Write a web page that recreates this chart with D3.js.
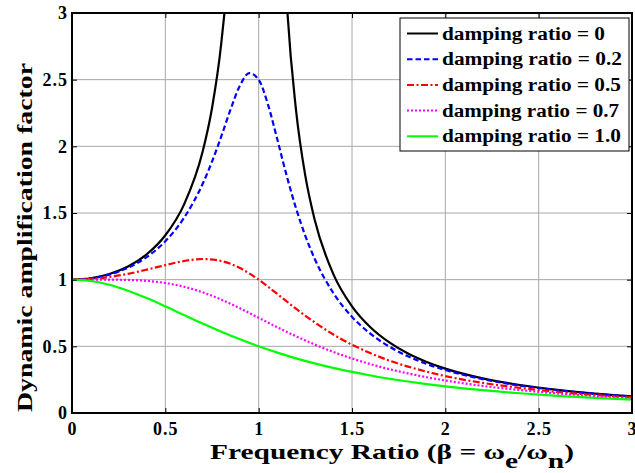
<!DOCTYPE html>
<html>
<head>
<meta charset="utf-8">
<script src="https://cdn.jsdelivr.net/npm/d3@7"></script>
<style>
  body { margin: 0; background: #fff; }
  text { font-family: "Liberation Serif", "Times New Roman", serif; font-weight: bold; }
</style>
</head>
<body>
<svg id="chart" width="635" height="473"></svg>
<script>
// frequency ratio samples (coarse for the well damped curves, finer round resonance)
var betaCoarse = [0, 0.1, 0.2, 0.3, 0.4, 0.5, 0.6, 0.7, 0.8, 0.9, 1.0, 1.1, 1.2, 1.3, 1.4,
                  1.5, 1.6, 1.7, 1.8, 1.9, 2.0, 2.2, 2.4, 2.6, 2.8, 3.0];
var betaFine = [0, 0.1, 0.2, 0.3, 0.4, 0.5, 0.6, 0.7, 0.75, 0.8, 0.85, 0.9, 0.95, 1.0, 1.05,
                1.1, 1.15, 1.2, 1.25, 1.3, 1.4, 1.5, 1.6, 1.7, 1.8, 1.9, 2.0, 2.2, 2.4, 2.6, 2.8, 3.0];

// amplification factor (null = off the top, resonance)
var daf0 = [1, 1.010, 1.042, 1.099, 1.190, 1.333, 1.563, 1.961, 2.286, 2.778, 3.604, 5.263, 10.26, null, 9.76,
            4.762, 3.101, 2.273, 1.778, 1.449, 1.042, 0.800, 0.641, 0.529, 0.446, 0.383, 0.333, 0.260, 0.210, 0.174, 0.146, 0.125];
var daf02 = [1, 1.009, 1.038, 1.090, 1.169, 1.288, 1.463, 1.719, 1.885, 2.076, 2.279, 2.457, 2.549, 2.500, 2.313,
             2.051, 1.780, 1.536, 1.329, 1.157, 0.900, 0.721, 0.593, 0.498, 0.425, 0.368, 0.322, 0.254, 0.206, 0.171, 0.144, 0.124];
var daf05 = [1, 1.005, 1.020, 1.044, 1.075, 1.109, 1.140, 1.155, 1.140, 1.087, 1.000, 0.893, 0.782, 0.680, 0.589,
             0.512, 0.448, 0.393, 0.348, 0.310, 0.277, 0.226, 0.188, 0.158, 0.135, 0.117];
var daf07 = [1, 1.000, 1.000, 0.998, 0.991, 0.975, 0.947, 0.905, 0.850, 0.785, 0.714, 0.643, 0.576, 0.514, 0.458,
             0.409, 0.366, 0.329, 0.297, 0.268, 0.244, 0.203, 0.172, 0.147, 0.127, 0.111];
var daf10 = [1, 0.990, 0.962, 0.917, 0.862, 0.800, 0.735, 0.671, 0.610, 0.553, 0.500, 0.453, 0.410, 0.372, 0.338,
             0.308, 0.281, 0.257, 0.236, 0.217, 0.200, 0.171, 0.148, 0.129, 0.113, 0.100];

var labels = ["damping ratio = 0", "damping ratio = 0.2", "damping ratio = 0.5",
              "damping ratio = 0.7", "damping ratio = 1.0"];
var xTicks = [0, 0.5, 1, 1.5, 2, 2.5, 3];
var yTicks = [0, 0.5, 1, 1.5, 2, 2.5, 3];

var series = [
    { label: labels[0], x: betaFine,   y: daf0,  color: "#000000", dash: null,          w: 163 },
    { label: labels[1], x: betaFine,   y: daf02, color: "#0000ff", dash: "5.5,3",       w: 180 },
    { label: labels[2], x: betaCoarse, y: daf05, color: "#ff0000", dash: "7,2.5,2,2.5", w: 179 },
    { label: labels[3], x: betaCoarse, y: daf07, color: "#ff00ff", dash: "2,2",         w: 177 },
    { label: labels[4], x: betaCoarse, y: daf10, color: "#00ff00", dash: null,          w: 179 }
];

//////////////////////////////////////////////////////////////////////////////
// scales, grid, box

var margin = { left: 72, right: 3, top: 13, bottom: 60 };
var width = 635 - margin.left - margin.right;
var height = 473 - margin.top - margin.bottom;

var svg = d3.select("#chart");
var g = svg.append("g").attr("transform", "translate(" + margin.left + "," + margin.top + ")");

var xScale = d3.scaleLinear().domain([0, 3]).range([0, width]);
var yScale = d3.scaleLinear().domain([0, 3]).range([height, 0]);

g.append("defs").append("clipPath").attr("id", "plotClip")
    .append("rect").attr("width", width).attr("height", height);

// grid
g.append("g").selectAll("line").data(xTicks).enter().append("line")
    .attr("x1", d => xScale(d)).attr("x2", d => xScale(d))
    .attr("y1", 0).attr("y2", height)
    .attr("stroke", "#a8a8a8").attr("stroke-width", 1);
g.append("g").selectAll("line").data(yTicks).enter().append("line")
    .attr("y1", d => yScale(d)).attr("y2", d => yScale(d))
    .attr("x1", 0).attr("x2", width)
    .attr("stroke", "#a8a8a8").attr("stroke-width", 1);

// curves
var line = d3.line()
    .defined(d => d[1] !== null)
    .x(d => xScale(d[0]))
    .y(d => yScale(d[1]))
    .curve(d3.curveMonotoneX);

g.append("g").attr("clip-path", "url(#plotClip)")
    .selectAll("path").data(series).enter().append("path")
    .attr("d", s => line(s.x.map((b, i) => [b, s.y[i]])))
    .attr("fill", "none")
    .attr("stroke", s => s.color)
    .attr("stroke-width", 2.2)
    .attr("stroke-dasharray", s => s.dash);

// axes (ticks inward on all four sides)
g.append("g").attr("transform", "translate(0," + height + ")")
    .call(d3.axisBottom(xScale).tickValues(xTicks).tickSize(-5).tickPadding(9).tickFormat(d3.format("")));
g.append("g")
    .call(d3.axisLeft(yScale).tickValues(yTicks).tickSize(-5).tickPadding(4).tickFormat(d3.format("")));
g.append("g")
    .call(d3.axisTop(xScale).tickValues(xTicks).tickSize(-5).tickFormat(""));
g.append("g").attr("transform", "translate(" + width + ",0)")
    .call(d3.axisRight(yScale).tickValues(yTicks).tickSize(-5).tickFormat(""));

g.selectAll(".domain").remove();
g.selectAll(".tick line").attr("stroke", "#000").attr("stroke-width", 1);
g.selectAll(".tick text").attr("fill", "#000")
    .style("font-size", "18px").style("letter-spacing", "1px");

g.append("rect")
    .attr("width", width).attr("height", height)
    .attr("fill", "none").attr("stroke", "#000").attr("stroke-width", 2);

// axis titles
var xTitle = svg.append("text")
    .attr("x", 210).attr("y", 459)
    .attr("textLength", 364).attr("lengthAdjust", "spacingAndGlyphs")
    .style("font-size", "22px");
xTitle.append("tspan").text("Frequency Ratio (\u03B2 = \u03C9");
xTitle.append("tspan").attr("dy", 9).text("e");
xTitle.append("tspan").attr("dy", -9).text("/\u03C9");
xTitle.append("tspan").attr("dy", 9).text("n");
xTitle.append("tspan").attr("dy", -9).text(")");

svg.append("text")
    .attr("transform", "translate(32,412) rotate(-90)")
    .attr("textLength", 349).attr("lengthAdjust", "spacingAndGlyphs")
    .style("font-size", "22px")
    .text("Dynamic amplification factor");

//////////////////////////////////////////////////////////////////////////////
// legend

var legend = svg.append("g").attr("transform", "translate(400,18)");
legend.append("rect")
    .attr("width", 229).attr("height", 133)
    .attr("fill", "#fff").attr("stroke", "#000").attr("stroke-width", 1);

var rows = legend.selectAll("g.row").data(series).enter().append("g")
    .attr("class", "row")
    .attr("transform", (d, i) => "translate(0," + (15.5 + i * 25.7) + ")");
rows.append("line")
    .attr("x1", 7).attr("x2", 38)
    .attr("stroke", s => s.color).attr("stroke-width", 2)
    .attr("stroke-dasharray", s => s.dash);
rows.append("text")
    .attr("x", 42).attr("y", 6)
    .attr("textLength", s => s.w).attr("lengthAdjust", "spacingAndGlyphs")
    .style("font-size", "18px")
    .text(s => s.label);
</script>
</body>
</html>
